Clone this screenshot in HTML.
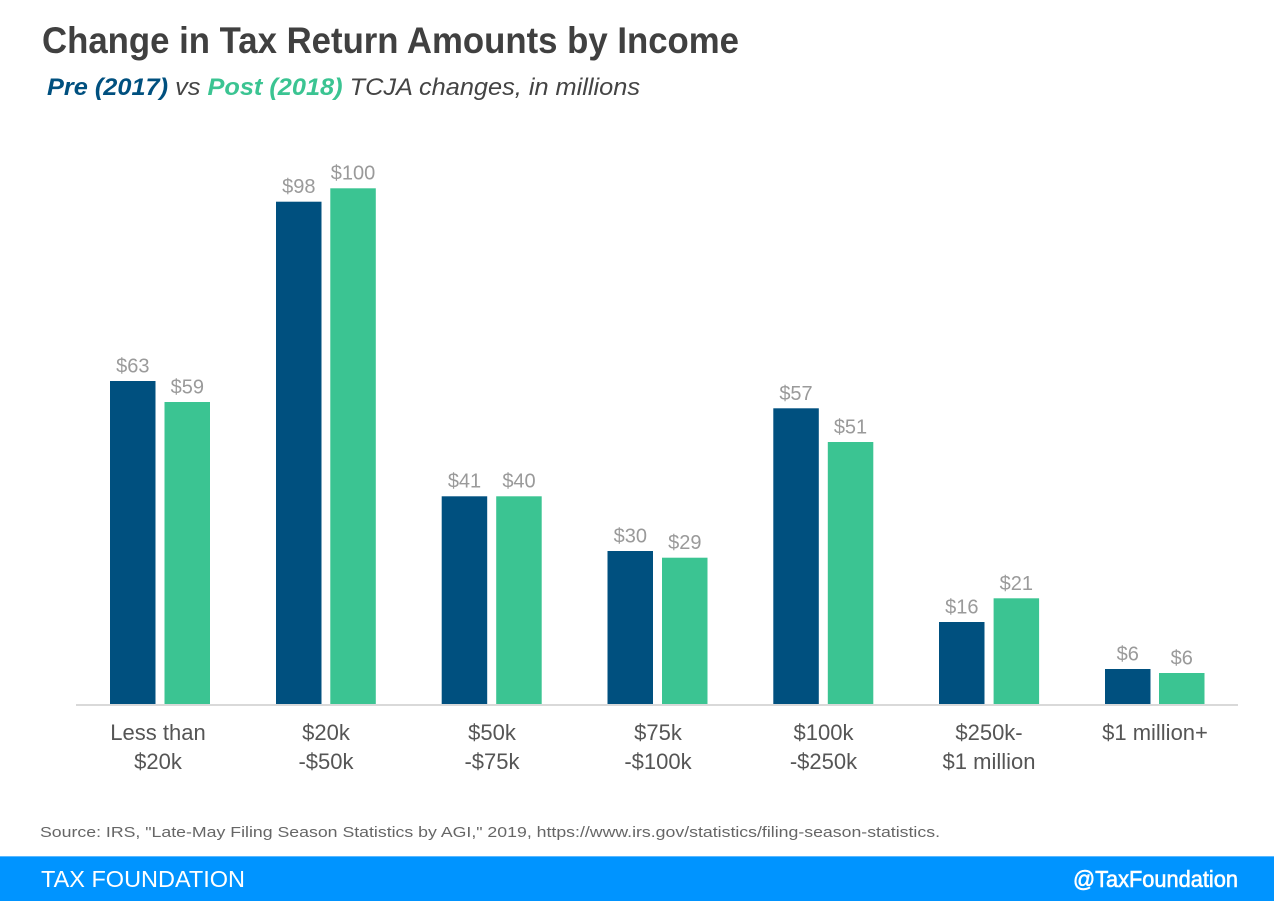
<!DOCTYPE html>
<html>
<head>
<meta charset="utf-8">
<style>
  html, body { margin: 0; padding: 0; background: #ffffff; }
  body { width: 1274px; height: 901px; overflow: hidden; }
  svg { display: block; }
  text { font-family: "Liberation Sans", "DejaVu Sans", sans-serif; }
</style>
</head>
<body>
<svg width="1274" height="901" viewBox="0 0 1274 901" xmlns="http://www.w3.org/2000/svg">
  <rect x="0" y="0" width="1274" height="901" fill="#ffffff"/>

  <!-- Title -->
  <text x="42" y="53" font-size="37" font-weight="bold" fill="#404040" textLength="697" lengthAdjust="spacingAndGlyphs">Change in Tax Return Amounts by Income</text>

  <!-- Subtitle -->
  <text x="47" y="95" font-size="24" font-style="italic" fill="#444444" textLength="593" lengthAdjust="spacingAndGlyphs"><tspan font-weight="bold" fill="#00507f">Pre (2017)</tspan> vs <tspan font-weight="bold" fill="#3bc492">Post (2018)</tspan> TCJA changes, in millions</text>

  <!-- Bars: cluster 0 -->
  <rect x="110" y="381" width="45.5" height="323" fill="#00507f"/>
  <rect x="164.5" y="402" width="45.5" height="302" fill="#3bc492"/>
  <!-- cluster 1 -->
  <rect x="276" y="201.7" width="45.5" height="502.3" fill="#00507f"/>
  <rect x="330.3" y="188.3" width="45.5" height="515.7" fill="#3bc492"/>
  <!-- cluster 2 -->
  <rect x="441.7" y="496.3" width="45.5" height="207.7" fill="#00507f"/>
  <rect x="496.2" y="496.3" width="45.5" height="207.7" fill="#3bc492"/>
  <!-- cluster 3 -->
  <rect x="607.5" y="551" width="45.5" height="153" fill="#00507f"/>
  <rect x="662" y="557.7" width="45.5" height="146.3" fill="#3bc492"/>
  <!-- cluster 4 -->
  <rect x="773.3" y="408.3" width="45.5" height="295.7" fill="#00507f"/>
  <rect x="827.8" y="442" width="45.5" height="262" fill="#3bc492"/>
  <!-- cluster 5 -->
  <rect x="939" y="622" width="45.5" height="82" fill="#00507f"/>
  <rect x="993.6" y="598.3" width="45.5" height="105.7" fill="#3bc492"/>
  <!-- cluster 6 -->
  <rect x="1105" y="669" width="45.5" height="35" fill="#00507f"/>
  <rect x="1159" y="673" width="45.5" height="31" fill="#3bc492"/>

  <!-- Axis line -->
  <rect x="76" y="704" width="1162" height="2" fill="#d9d9d9"/>

  <!-- Value labels -->
  <g font-size="20" fill="#9a9a9a" text-anchor="middle">
    <text x="132.8" y="372.5">$63</text>
    <text x="187.3" y="393.5">$59</text>
    <text x="298.8" y="193">$98</text>
    <text x="353" y="179.5">$100</text>
    <text x="464.5" y="487.7">$41</text>
    <text x="519" y="487.7">$40</text>
    <text x="630.3" y="542.5">$30</text>
    <text x="684.8" y="549">$29</text>
    <text x="796" y="400">$57</text>
    <text x="850.5" y="433.5">$51</text>
    <text x="961.8" y="613.5">$16</text>
    <text x="1016.3" y="589.8">$21</text>
    <text x="1127.8" y="660.5">$6</text>
    <text x="1181.8" y="664.5">$6</text>
  </g>

  <!-- Category labels -->
  <g font-size="22" fill="#555555" text-anchor="middle">
    <text x="158" y="740">Less than</text>
    <text x="158" y="769">$20k</text>
    <text x="326" y="740">$20k</text>
    <text x="326" y="769">-$50k</text>
    <text x="492" y="740">$50k</text>
    <text x="492" y="769">-$75k</text>
    <text x="658" y="740">$75k</text>
    <text x="658" y="769">-$100k</text>
    <text x="823.5" y="740">$100k</text>
    <text x="823.5" y="769">-$250k</text>
    <text x="989" y="740">$250k-</text>
    <text x="989" y="769">$1 million</text>
    <text x="1155" y="740">$1 million+</text>
  </g>

  <!-- Source -->
  <text x="40" y="837" font-size="15" fill="#666666" textLength="900" lengthAdjust="spacingAndGlyphs">Source: IRS, "Late-May Filing Season Statistics by AGI," 2019, https://www.irs.gov/statistics/filing-season-statistics.</text>

  <!-- Footer bar -->
  <rect x="0" y="856" width="1274" height="45" fill="#0094ff"/>
  <rect x="0" y="856" width="1274" height="1" fill="#5ab8ff"/>
  <text x="41" y="887" font-size="23" fill="#ffffff" textLength="204" lengthAdjust="spacingAndGlyphs">TAX FOUNDATION</text>
  <text x="1073" y="887" font-size="23" fill="#ffffff" stroke="#ffffff" stroke-width="0.6" textLength="165" lengthAdjust="spacingAndGlyphs">@TaxFoundation</text>
</svg>
</body>
</html>
